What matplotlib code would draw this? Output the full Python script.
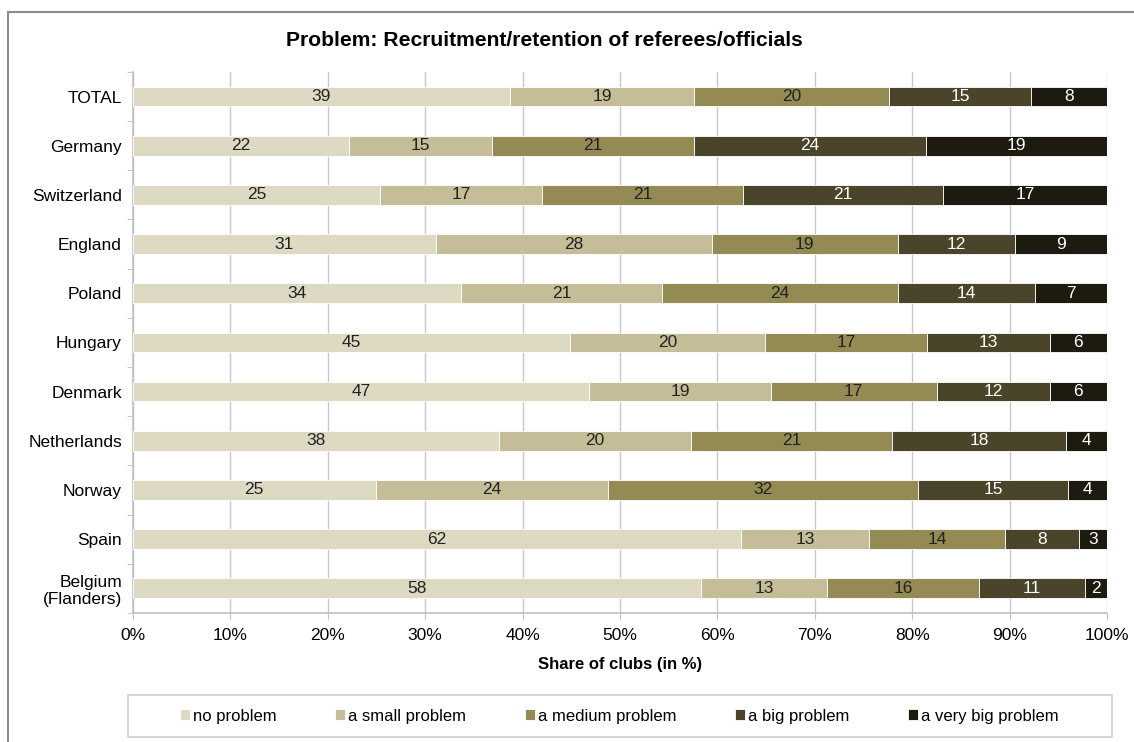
import matplotlib

matplotlib.use("Agg")
import matplotlib.pyplot as plt
from matplotlib.patches import Rectangle
import numpy as np

plt.rcParams["font.family"] = ["Liberation Sans", "DejaVu Sans"]

countries = ["TOTAL", "Germany", "Switzerland", "England", "Poland", "Hungary",
             "Denmark", "Netherlands", "Norway", "Spain", "Belgium\n(Flanders)"]
categories = ["no problem", "a small problem", "a medium problem", "a big problem", "a very big problem"]

# shares (%) per category
no_problem = [38.7, 22.2, 25.4, 31.1, 33.7, 44.9, 46.8, 37.6, 24.9, 62.4, 58.3]
small_problem = [18.9, 14.7, 16.6, 28.3, 20.6, 20.0, 18.7, 19.7, 23.9, 13.2, 13.0]
medium_problem = [20.0, 20.7, 20.6, 19.1, 24.2, 16.6, 17.0, 20.6, 31.8, 13.9, 15.6]
big_problem = [14.6, 23.8, 20.6, 12.1, 14.1, 12.6, 11.6, 17.9, 15.4, 7.6, 10.8]
very_big_problem = [7.8, 18.6, 16.8, 9.4, 7.4, 5.9, 5.9, 4.2, 4.0, 2.9, 2.3]

colors = ["#DDD9C3", "#C4BD97", "#948A54", "#4A452A", "#1D1B10"]
text_colors = ["#222222", "#222222", "#222222", "white", "white"]

series = [no_problem, small_problem, medium_problem, big_problem, very_big_problem]

fig = plt.figure(figsize=(11.34, 7.42), dpi=100)
ax = fig.add_axes([0.1173, 0.174, 0.8589, 0.729])

y = np.arange(len(countries))
left = np.zeros(len(countries))
handles = []
for vals, col, tcol, name in zip(series, colors, text_colors, categories):
    vals = np.array(vals)
    bars = ax.barh(y, vals, left=left, height=0.4, color=col, edgecolor="white",
                   linewidth=0.6, label=name, zorder=3)
    handles.append(bars)
    for yi, l, v in zip(y, left, vals):
        ax.text(l + v / 2, yi, f"{int(v + 0.5)}", ha="center", va="center",
                fontsize=12.5, color=tcol, zorder=4)
    left += vals

ax.set_xlim(0, 100)
ax.set_ylim(len(countries) - 0.5, -0.5)
ax.set_xticks(np.arange(0, 101, 10))
ax.set_xticklabels([f"{v}%" for v in range(0, 101, 10)], fontsize=12.5)
ax.set_yticks(y)
ax.set_yticklabels(countries, fontsize=12.5)
ax.tick_params(axis="y", length=0, pad=8)
ax.set_yticks(np.arange(-0.5, len(countries), 1), minor=True)
ax.tick_params(axis="y", which="minor", length=4, color="#BFBFBF")
ax.tick_params(axis="x", length=4, color="#BFBFBF", pad=7)
ax.grid(axis="x", color="#C8C8C8", linewidth=1, zorder=0)
for side in ["top", "right"]:
    ax.spines[side].set_visible(False)
for side in ["left", "bottom"]:
    ax.spines[side].set_color("#BFBFBF")
    ax.spines[side].set_linewidth(1.2)

ax.set_xlabel("Share of clubs (in %)", fontsize=12, fontweight="bold", labelpad=10)
fig.text(0.48, 0.946, "Problem: Recruitment/retention of referees/officials",
         ha="center", va="center", fontsize=15.2, fontweight="bold")

# legend entries without frame, box drawn separately (wider than the entries)
leg = fig.legend(handles=handles, labels=categories, loc="center",
                 bbox_to_anchor=(0.546, 0.035), ncol=5, fontsize=12,
                 frameon=False, handlelength=0.6, handleheight=0.6,
                 handletextpad=0.2, columnspacing=3.5)
fig.patches.append(Rectangle((0.1129, 0.0067), 0.8677, 0.0566, transform=fig.transFigure,
                             fill=False, edgecolor="#D0D0D0", linewidth=1.2))

# outer chart frame (top and left edges visible in the reference)
fig.patches.append(Rectangle((0.007, -0.05), 1.1, 1.034, transform=fig.transFigure,
                             fill=False, edgecolor="#8C8C8C", linewidth=1.5, zorder=0))

fig.savefig("out.png", dpi=100)
